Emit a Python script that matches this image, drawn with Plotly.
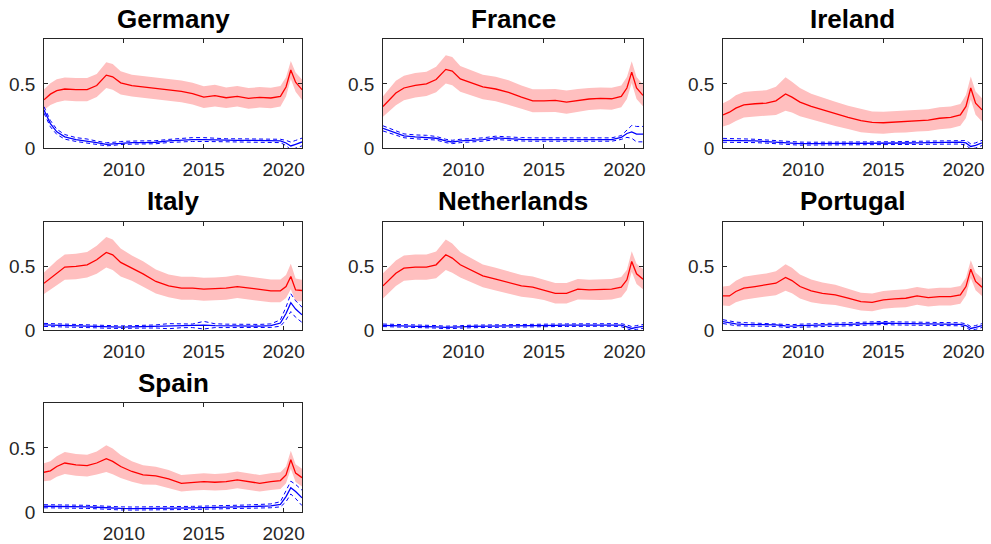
import plotly.graph_objects as go

# time grid (years)
YEARS = [2005.0, 2005.4, 2005.8, 2006.3, 2007.0, 2007.7, 2008.3, 2008.9, 2009.3, 2009.8,
         2010.5, 2011.2, 2012.0, 2012.8, 2013.6, 2014.3, 2015.0, 2015.7, 2016.4, 2017.1,
         2017.8, 2018.5, 2019.2, 2019.8, 2020.15, 2020.45, 2020.75, 2021.15]

COUNTRIES = ["Germany", "France", "Ireland", "Italy", "Netherlands", "Portugal", "Spain"]

# ---- red series (mean) and band half-widths ----
germany_red = [0.376, 0.42, 0.447, 0.46, 0.455, 0.455, 0.487, 0.568, 0.555, 0.508, 0.487, 0.476, 0.466, 0.455,
               0.442, 0.424, 0.397, 0.408, 0.392, 0.403, 0.387, 0.395, 0.39, 0.403, 0.476, 0.608, 0.513, 0.455]
germany_red_hw = [0.08, 0.085, 0.09, 0.09, 0.09, 0.09, 0.09, 0.1, 0.1, 0.09, 0.085, 0.085, 0.085, 0.085,
                  0.085, 0.085, 0.085, 0.085, 0.08, 0.08, 0.08, 0.08, 0.08, 0.08, 0.075, 0.07, 0.075, 0.08]
france_red = [0.324, 0.376, 0.429, 0.468, 0.489, 0.5, 0.534, 0.613, 0.6, 0.539, 0.508, 0.476, 0.46, 0.434,
              0.397, 0.368, 0.368, 0.371, 0.358, 0.371, 0.382, 0.387, 0.384, 0.403, 0.468, 0.592, 0.468, 0.41]
france_red_hw = [0.08, 0.09, 0.095, 0.095, 0.095, 0.095, 0.1, 0.11, 0.11, 0.1, 0.095, 0.095, 0.095, 0.095,
                 0.09, 0.09, 0.09, 0.09, 0.09, 0.09, 0.085, 0.085, 0.085, 0.085, 0.085, 0.085, 0.085, 0.085]
ireland_red = [0.258, 0.279, 0.311, 0.337, 0.345, 0.35, 0.368, 0.421, 0.397, 0.358, 0.324, 0.297, 0.266, 0.239,
               0.213, 0.2, 0.197, 0.203, 0.205, 0.213, 0.218, 0.232, 0.239, 0.258, 0.324, 0.468, 0.35, 0.297]
ireland_red_hw = [0.09, 0.095, 0.1, 0.1, 0.1, 0.1, 0.11, 0.13, 0.12, 0.11, 0.1, 0.1, 0.095, 0.09,
                  0.09, 0.085, 0.085, 0.085, 0.085, 0.085, 0.085, 0.085, 0.085, 0.085, 0.09, 0.09, 0.09, 0.09]
italy_red = [0.368, 0.408, 0.447, 0.495, 0.5, 0.513, 0.553, 0.611, 0.592, 0.532, 0.487, 0.442, 0.382, 0.347,
             0.329, 0.329, 0.321, 0.324, 0.329, 0.342, 0.329, 0.316, 0.308, 0.308, 0.342, 0.421, 0.316, 0.311]
italy_red_hw = [0.085, 0.09, 0.1, 0.1, 0.1, 0.1, 0.11, 0.12, 0.12, 0.11, 0.1, 0.1, 0.095, 0.09,
                0.09, 0.09, 0.09, 0.09, 0.09, 0.09, 0.09, 0.09, 0.09, 0.09, 0.09, 0.1, 0.09, 0.085]
netherlands_red = [0.347, 0.4, 0.447, 0.487, 0.495, 0.495, 0.513, 0.592, 0.566, 0.513, 0.468, 0.426, 0.4, 0.374,
                   0.347, 0.337, 0.316, 0.289, 0.289, 0.321, 0.316, 0.316, 0.321, 0.337, 0.395, 0.539, 0.442, 0.4]
netherlands_red_hw = [0.1, 0.1, 0.1, 0.1, 0.1, 0.1, 0.105, 0.12, 0.115, 0.1, 0.095, 0.09, 0.09, 0.085,
                      0.085, 0.085, 0.08, 0.08, 0.08, 0.08, 0.08, 0.08, 0.08, 0.08, 0.08, 0.08, 0.08, 0.08]
portugal_red = [0.268, 0.268, 0.303, 0.329, 0.342, 0.355, 0.368, 0.413, 0.389, 0.342, 0.308, 0.289, 0.276, 0.25,
                0.224, 0.218, 0.237, 0.245, 0.25, 0.268, 0.255, 0.263, 0.263, 0.276, 0.342, 0.479, 0.382, 0.337]
portugal_red_hw = [0.075, 0.08, 0.085, 0.09, 0.09, 0.09, 0.095, 0.105, 0.1, 0.095, 0.09, 0.085, 0.08, 0.075,
                   0.07, 0.07, 0.07, 0.07, 0.07, 0.07, 0.07, 0.07, 0.07, 0.07, 0.07, 0.07, 0.07, 0.07]
spain_red = [0.31, 0.321, 0.355, 0.382, 0.368, 0.361, 0.382, 0.416, 0.395, 0.355, 0.316, 0.289, 0.282, 0.258,
             0.224, 0.232, 0.237, 0.232, 0.237, 0.25, 0.237, 0.224, 0.237, 0.245, 0.289, 0.408, 0.303, 0.268]
spain_red_hw = [0.07, 0.075, 0.08, 0.085, 0.085, 0.085, 0.09, 0.105, 0.1, 0.09, 0.08, 0.075, 0.07, 0.07,
                0.065, 0.065, 0.065, 0.065, 0.065, 0.065, 0.065, 0.065, 0.065, 0.065, 0.065, 0.07, 0.07, 0.07]

# ---- blue series (mean) and dashed-bound half-widths ----
germany_blue = [0.297, 0.19, 0.126, 0.087, 0.066, 0.055, 0.042, 0.029, 0.032, 0.039, 0.042, 0.042, 0.045, 0.055,
                0.063, 0.066, 0.066, 0.063, 0.06, 0.06, 0.06, 0.06, 0.058, 0.055, 0.039, 0.016, 0.029, 0.047]
germany_blue_hw = [0.025, 0.025, 0.02, 0.018, 0.015, 0.015, 0.012, 0.012, 0.012, 0.012, 0.012, 0.012, 0.012, 0.012,
                   0.013, 0.015, 0.015, 0.013, 0.012, 0.012, 0.012, 0.012, 0.012, 0.013, 0.02, 0.03, 0.03, 0.03]
france_blue = [0.153, 0.134, 0.113, 0.095, 0.087, 0.084, 0.076, 0.055, 0.047, 0.055, 0.06, 0.066, 0.079, 0.071,
               0.068, 0.066, 0.066, 0.066, 0.063, 0.063, 0.063, 0.063, 0.066, 0.082, 0.113, 0.126, 0.108, 0.108]
france_blue_hw = [0.02, 0.018, 0.017, 0.015, 0.015, 0.015, 0.014, 0.013, 0.013, 0.013, 0.013, 0.013, 0.013, 0.013,
                  0.013, 0.013, 0.013, 0.013, 0.013, 0.013, 0.013, 0.013, 0.013, 0.015, 0.03, 0.05, 0.06, 0.06]
ireland_blue = [0.06, 0.06, 0.058, 0.057, 0.055, 0.05, 0.045, 0.036, 0.034, 0.034, 0.034, 0.034, 0.035, 0.035,
                0.036, 0.037, 0.038, 0.038, 0.039, 0.04, 0.042, 0.043, 0.045, 0.046, 0.04, 0.012, 0.02, 0.04]
ireland_blue_hw = [0.015, 0.015, 0.015, 0.014, 0.013, 0.012, 0.012, 0.012, 0.012, 0.012, 0.011, 0.011, 0.011, 0.011,
                   0.011, 0.011, 0.011, 0.011, 0.012, 0.012, 0.013, 0.013, 0.014, 0.015, 0.018, 0.02, 0.02, 0.02]
italy_blue = [0.04, 0.038, 0.036, 0.034, 0.032, 0.03, 0.027, 0.024, 0.022, 0.022, 0.024, 0.026, 0.028, 0.03,
              0.032, 0.033, 0.038, 0.034, 0.032, 0.031, 0.03, 0.031, 0.034, 0.055, 0.13, 0.215, 0.165, 0.12]
italy_blue_hw = [0.012, 0.012, 0.012, 0.012, 0.011, 0.01, 0.01, 0.01, 0.01, 0.01, 0.01, 0.011, 0.012, 0.02,
                 0.014, 0.014, 0.03, 0.015, 0.014, 0.013, 0.013, 0.013, 0.014, 0.025, 0.05, 0.07, 0.065, 0.06]
netherlands_blue = [0.037, 0.036, 0.035, 0.033, 0.03, 0.028, 0.025, 0.02, 0.02, 0.024, 0.028, 0.03, 0.032, 0.033,
                    0.034, 0.035, 0.036, 0.037, 0.038, 0.039, 0.04, 0.04, 0.04, 0.038, 0.025, 0.012, 0.02, 0.028]
netherlands_blue_hw = [0.01, 0.01, 0.01, 0.01, 0.01, 0.01, 0.01, 0.01, 0.01, 0.01, 0.01, 0.01, 0.01, 0.01,
                       0.01, 0.01, 0.01, 0.01, 0.01, 0.01, 0.01, 0.01, 0.01, 0.012, 0.015, 0.015, 0.015, 0.015]
portugal_blue = [0.066, 0.055, 0.048, 0.045, 0.043, 0.042, 0.04, 0.032, 0.03, 0.034, 0.038, 0.04, 0.042, 0.045,
                 0.05, 0.055, 0.055, 0.052, 0.05, 0.05, 0.049, 0.048, 0.047, 0.045, 0.035, 0.012, 0.02, 0.035]
portugal_blue_hw = [0.015, 0.015, 0.014, 0.013, 0.012, 0.012, 0.012, 0.012, 0.012, 0.012, 0.012, 0.012, 0.012, 0.012,
                    0.012, 0.012, 0.012, 0.012, 0.012, 0.012, 0.012, 0.012, 0.012, 0.012, 0.014, 0.015, 0.015, 0.015]
spain_blue = [0.045, 0.045, 0.044, 0.043, 0.042, 0.04, 0.037, 0.032, 0.03, 0.028, 0.027, 0.027, 0.028, 0.029,
              0.03, 0.032, 0.034, 0.035, 0.037, 0.04, 0.042, 0.045, 0.048, 0.06, 0.12, 0.19, 0.16, 0.11]
spain_blue_hw = [0.012, 0.012, 0.012, 0.012, 0.012, 0.012, 0.012, 0.012, 0.012, 0.012, 0.012, 0.012, 0.012, 0.012,
                 0.012, 0.012, 0.012, 0.012, 0.012, 0.013, 0.013, 0.014, 0.015, 0.02, 0.04, 0.05, 0.055, 0.06]

RED = [germany_red, france_red, ireland_red, italy_red, netherlands_red, portugal_red, spain_red]
RED_HW = [germany_red_hw, france_red_hw, ireland_red_hw, italy_red_hw, netherlands_red_hw, portugal_red_hw, spain_red_hw]
BLUE = [germany_blue, france_blue, ireland_blue, italy_blue, netherlands_blue, portugal_blue, spain_blue]
BLUE_HW = [germany_blue_hw, france_blue_hw, ireland_blue_hw, italy_blue_hw, netherlands_blue_hw, portugal_blue_hw, spain_blue_hw]

X_TICKS = [2010, 2015, 2020]
X_TICKTEXT = ["2010", "2015", "2020"]
Y_TICKS = [0, 0.5]
Y_TICKTEXT = ["0", "0.5"]

W, H = 991, 544
COL_PX = [(44, 302), (383, 643), (723, 982)]
ROW_PX = [(39, 148), (222, 330), (403, 512)]
TITLE_Y_PX = [19, 201, 383]

fig = go.Figure()
AXC = "#262626"
FONT = "Liberation Sans, Arial, Helvetica, sans-serif"

for i, name in enumerate(COUNTRIES):
    r, c = divmod(i, 3)
    k = i + 1
    xa = "x" if k == 1 else f"x{k}"
    ya = "y" if k == 1 else f"y{k}"
    red = RED[i]; rhw = RED_HW[i]
    blue = BLUE[i]; bhw = BLUE_HW[i]
    lo = [m - h for m, h in zip(red, rhw)]
    hi = [m + h for m, h in zip(red, rhw)]
    blo = [m - h for m, h in zip(blue, bhw)]
    bhi = [m + h for m, h in zip(blue, bhw)]
    fig.add_trace(go.Scatter(x=YEARS, y=lo, mode="lines", line=dict(width=0, color="#ffbfbf"),
                             xaxis=xa, yaxis=ya, showlegend=False, hoverinfo="skip"))
    fig.add_trace(go.Scatter(x=YEARS, y=hi, mode="lines", line=dict(width=0, color="#ffbfbf"),
                             fill="tonexty", fillcolor="#ffbfbf",
                             xaxis=xa, yaxis=ya, showlegend=False, hoverinfo="skip"))
    fig.add_trace(go.Scatter(x=YEARS, y=red, mode="lines", line=dict(width=1.3, color="#ff0000"),
                             xaxis=xa, yaxis=ya, showlegend=False))
    fig.add_trace(go.Scatter(x=YEARS, y=blo, mode="lines", line=dict(width=1, color="#0000ff", dash="4px,3px"),
                             xaxis=xa, yaxis=ya, showlegend=False))
    fig.add_trace(go.Scatter(x=YEARS, y=bhi, mode="lines", line=dict(width=1, color="#0000ff", dash="4px,3px"),
                             xaxis=xa, yaxis=ya, showlegend=False))
    fig.add_trace(go.Scatter(x=YEARS, y=blue, mode="lines", line=dict(width=1.3, color="#0000ff"),
                             xaxis=xa, yaxis=ya, showlegend=False))

    x0, x1 = COL_PX[c]
    y0, y1 = ROW_PX[r]
    axis_common = dict(showline=True, mirror="ticks", linecolor=AXC, linewidth=0.8,
                       ticks="inside", ticklen=4, tickwidth=0.8, tickcolor=AXC,
                       showgrid=False, zeroline=False, automargin=False,
                       tickfont=dict(family=FONT, size=19, color=AXC))
    fig.layout[("xaxis" if k == 1 else f"xaxis{k}")] = dict(
        domain=[x0 / W, x1 / W], anchor=ya, range=[2005, 2021.15],
        tickvals=X_TICKS, ticktext=X_TICKTEXT, ticklabelstandoff=4, **axis_common)
    fig.layout[("yaxis" if k == 1 else f"yaxis{k}")] = dict(
        domain=[1 - y1 / H, 1 - y0 / H], anchor=xa, range=[0, 0.85],
        tickvals=Y_TICKS, ticktext=Y_TICKTEXT, ticklabelstandoff=4, **axis_common)
    fig.add_annotation(text=f"<b>{name}</b>", xref="paper", yref="paper",
                       x=(x0 + x1) / 2 / W, y=1 - TITLE_Y_PX[r] / H,
                       xanchor="center", yanchor="middle", showarrow=False,
                       font=dict(family=FONT, size=26, color="#000000"))

fig.update_layout(width=W, height=H, margin=dict(l=0, r=0, t=0, b=0),
                  plot_bgcolor="white", paper_bgcolor="white")
fig.write_html("out.html", config={"displayModeBar": False},
               post_script="document.body.style.margin='0';document.body.style.padding='0';"
                           "document.documentElement.style.overflow='hidden';")
